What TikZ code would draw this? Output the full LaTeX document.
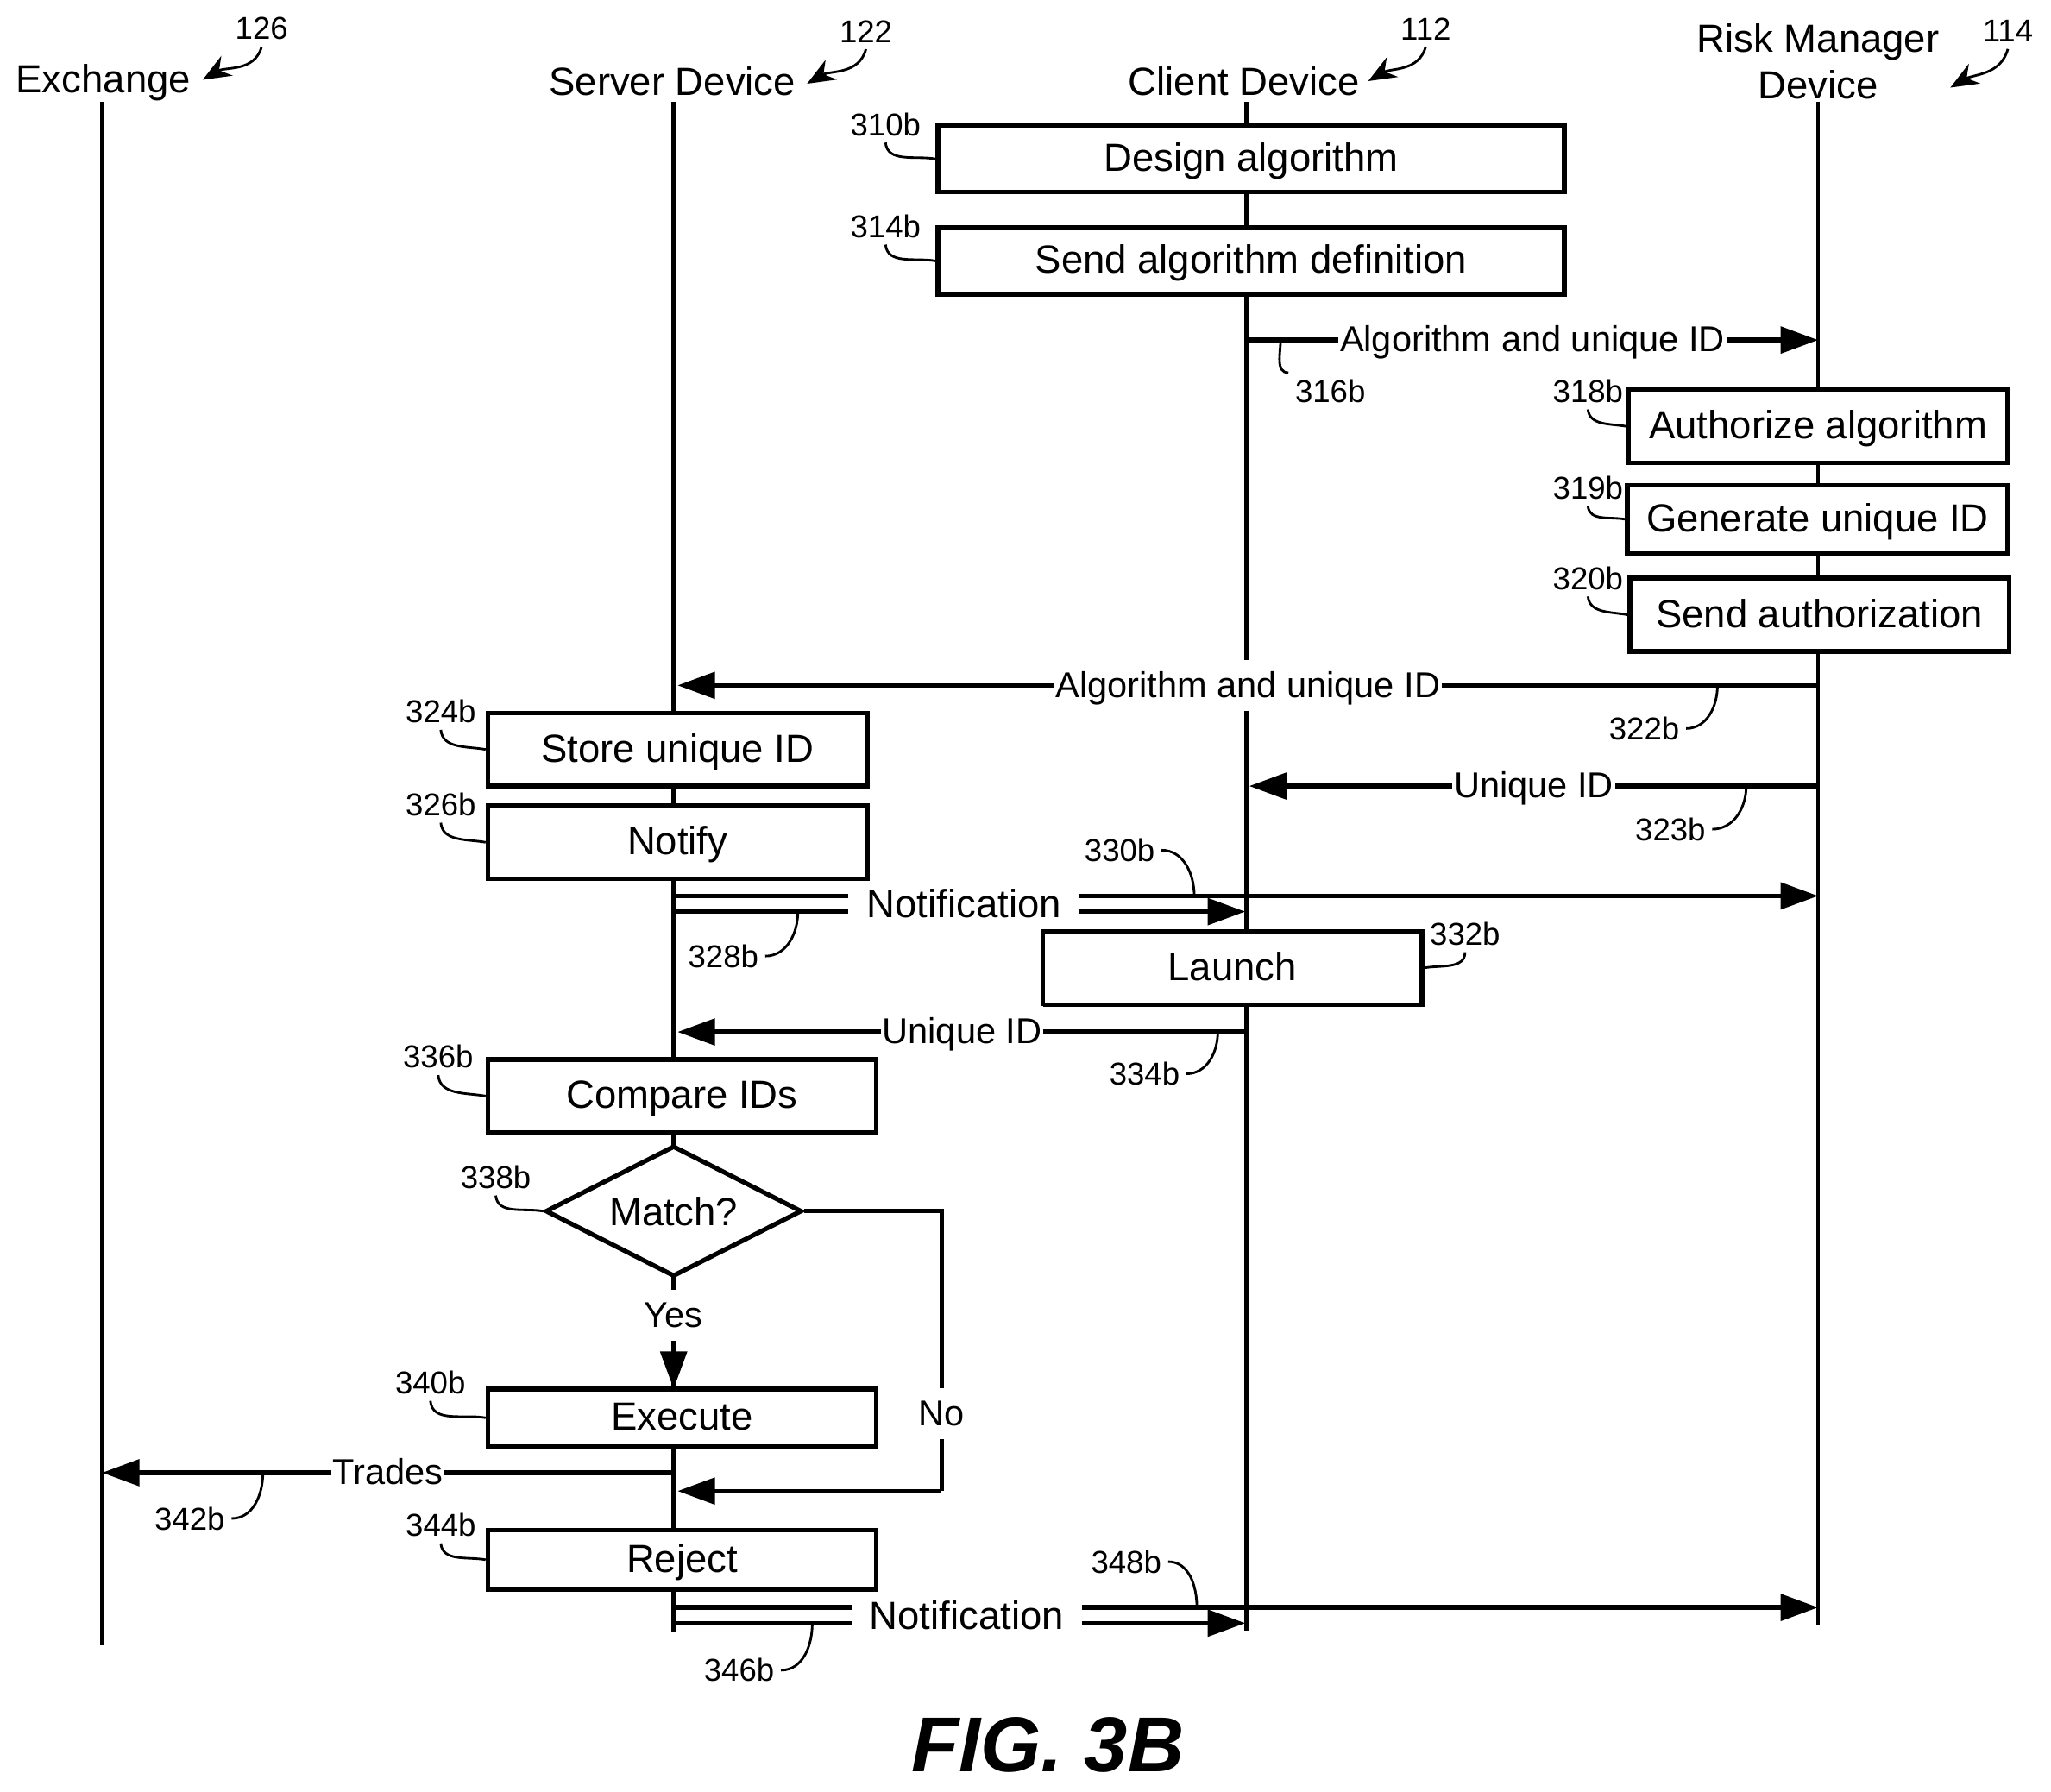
\documentclass[tikz,border=0pt]{standalone}
\usepackage{fontspec}
\setmainfont{Liberation Sans}
\usetikzlibrary{arrows.meta, shapes.geometric}

\tikzset{
    >={Triangle[length=4.3mm, width=3mm]},
    life/.style={line width=1.3pt},
    msg/.style={line width=1.5pt},
    lead/.style={line width=.8pt},
    curl/.style={line width=.8pt, -{Stealth[length=3.2mm, width=2.6mm]}},
    head/.style={font=\fontsize{12.8}{15.3}\selectfont, align=center, inner sep=0},
    ref/.style={font=\fontsize{10.3}{12}\selectfont, inner sep=2pt},
    lbl/.style={font=\fontsize{11.7}{14}\selectfont, fill=white, inner xsep=.5pt, inner ysep=2.5pt,
        text height=9.7pt, text depth=2pt},
    note/.style={font=\fontsize{12.8}{15}\selectfont, fill=white, inner xsep=6pt, inner ysep=2pt},
    box/.style={draw, fill=white, line width=1.5pt, inner sep=0, minimum height=.84cm, minimum width=4.35cm,
        font=\fontsize{12.8}{15}\selectfont, text height=10.9pt, text depth=2.7pt},
}

\begin{document}
\begin{tikzpicture}[x=.015cm, y=-.015cm]
    \useasboundingbox (0, 0) rectangle (1568, 1370);

    % lifelines
    \coordinate (ext) at (78, 78);
    \coordinate (exb) at (78, 1258);
    \coordinate (svt) at (515, 78);
    \coordinate (svb) at (515, 1248);
    \coordinate (clt) at (953, 78);
    \coordinate (clb) at (953, 1247);
    \coordinate (rmt) at (1390, 78);
    \coordinate (rmb) at (1390, 1243);
    \draw [life] (ext) to (exb);
    \draw [life] (svt) to (svb);
    \draw [life] (clt) to (clb);
    \draw [life] (rmt) to (rmb);

    \node [head] (exch) at (79, 63) {Exchange};
    \node [head] (serv) at (514, 62) {Server Device};
    \node [head] (clnt) at (951, 62) {Client Device};
    \node [head] (risk) at (1390, 47) {Risk Manager\\Device};

    \node [ref] (n126) at (200, 22) {126};
    \node [ref] (n122) at (662, 24) {122};
    \node [ref] (n112) at (1090, 22) {112};
    \node [ref] (n114) at (1535, 24) {114};
    \coordinate (c126) at (155, 61);
    \coordinate (c122) at (617, 64);
    \coordinate (c112) at (1046, 62);
    \coordinate (c114) at (1491, 67);
    \draw [curl] (n126.south) to[out=-105, in=30] (c126);
    \draw [curl] (n122.south) to[out=-105, in=30] (c122);
    \draw [curl] (n112.south) to[out=-105, in=30] (c112);
    \draw [curl] (n114.south) to[out=-105, in=30] (c114);

    % client and risk manager steps
    \node [box, minimum width=7.185cm, minimum height=.765cm] (design) at (956.5, 121.5) {Design algorithm};
    \node [box, minimum width=7.185cm, minimum height=.765cm] (senddef) at (956.5, 199.5) {Send algorithm definition};
    \node [box] (authorize) at (1390, 326) {Authorize algorithm};
    \node [box, minimum width=4.365cm, minimum height=.78cm] (generate) at (1389.5, 397) {Generate unique ID};
    \node [box] (sendauth) at (1391, 470) {Send authorization};

    % server steps
    \node [box] (store) at (518, 573) {Store unique ID};
    \node [box] (notify) at (518, 644) {Notify};
    \node [box] (launch) at (942, 740) {Launch};
    \node [box, minimum width=4.455cm] (compare) at (521.5, 838) {Compare IDs};
    \node [draw, diamond, aspect=1.96, fill=white, line width=1.5pt, inner sep=0, minimum width=2.94cm, minimum height=1.5cm,
        font=\fontsize{12.8}{15}\selectfont] (match) at (515, 926) {Match?};
    \node [box, minimum width=4.455cm, minimum height=.66cm] (execute) at (521.5, 1084) {Execute};
    \node [box, minimum width=4.455cm, minimum height=.675cm] (reject) at (521.5, 1192.5) {Reject};

    % messages
    \coordinate (a1) at (953, 260);
    \coordinate (a2) at (1390, 260);
    \draw [msg, ->] (a1) to node [lbl] {Algorithm and unique ID} (a2);
    \coordinate (b1) at (1390, 524);
    \coordinate (b2) at (518, 524);
    \draw [msg, ->] (b1) to node [lbl] {Algorithm and unique ID} (b2);
    \coordinate (d1) at (1390, 601);
    \coordinate (d2) at (955, 601);
    \draw [msg, ->] (d1) to node [lbl] {Unique ID} (d2);

    \coordinate (e1) at (515, 685);
    \coordinate (e2) at (1390, 685);
    \coordinate (e3) at (515, 697);
    \coordinate (e4) at (952, 697);
    \draw [msg, ->] (e1) to (e2);
    \draw [msg, ->] (e3) to (e4);
    \node [note] (notif1) at (737, 691) {Notification};

    \coordinate (f1) at (953, 789);
    \coordinate (f2) at (518, 789);
    \draw [msg, ->] (f1) to node [lbl] {Unique ID} (f2);

    \coordinate (m1) at (515, 1062);
    \draw [msg, ->] (match.south) to node [lbl, pos=.33] {Yes} (m1);
    \coordinate (g1) at (720, 926);
    \coordinate (g2) at (720, 1140);
    \coordinate (g3) at (518, 1140);
    \draw [msg] (match.east) to (g1) to (g2);
    \draw [msg, ->] (g2) to (g3);
    \node [lbl] (no) at (720, 1081) {No};

    \coordinate (h1) at (515, 1126);
    \coordinate (h2) at (78, 1126);
    \draw [msg, ->] (h1) to node [lbl] {Trades} (h2);

    \coordinate (k1) at (515, 1229);
    \coordinate (k2) at (1390, 1229);
    \coordinate (k3) at (515, 1241);
    \coordinate (k4) at (952, 1241);
    \draw [msg, ->] (k1) to (k2);
    \draw [msg, ->] (k3) to (k4);
    \node [note] (notif2) at (739, 1235) {Notification};

    % reference numbers on boxes
    \node [ref] (n310) at (677, 95) {310b};
    \node [ref] (n314) at (677, 173) {314b};
    \node [ref] (n318) at (1214, 299) {318b};
    \node [ref] (n319) at (1214, 373) {319b};
    \node [ref] (n320) at (1214, 442) {320b};
    \node [ref] (n324) at (337, 544) {324b};
    \node [ref] (n326) at (337, 615) {326b};
    \node [ref] (n332) at (1120, 714) {332b};
    \node [ref] (n336) at (335, 808) {336b};
    \node [ref] (n338) at (379, 900) {338b};
    \node [ref] (n340) at (329, 1057) {340b};
    \node [ref] (n344) at (337, 1166) {344b};
    \draw [lead] (n310.south) to[out=-85, in=170] (design.west);
    \draw [lead] (n314.south) to[out=-85, in=170] (senddef.west);
    \draw [lead] (n318.south) to[out=-85, in=170] (authorize.west);
    \draw [lead] (n319.south) to[out=-85, in=170] (generate.west);
    \draw [lead] (n320.south) to[out=-85, in=170] (sendauth.west);
    \draw [lead] (n324.south) to[out=-85, in=170] (store.west);
    \draw [lead] (n326.south) to[out=-85, in=170] (notify.west);
    \draw [lead] (n332.south) to[out=-90, in=10] (launch.east);
    \draw [lead] (n336.south) to[out=-85, in=170] (compare.west);
    \draw [lead] (n338.south) to[out=-85, in=170] (match.west);
    \draw [lead] (n340.south) to[out=-85, in=170] (execute.west);
    \draw [lead] (n344.south) to[out=-85, in=170] (reject.west);

    % reference numbers on messages
    \node [ref] (n316) at (1017, 299) {316b};
    \node [ref] (n322) at (1257, 557) {322b};
    \node [ref] (n323) at (1277, 634) {323b};
    \node [ref] (n328) at (553, 731) {328b};
    \node [ref] (n330) at (856, 650) {330b};
    \node [ref] (n334) at (875, 821) {334b};
    \node [ref] (n342) at (145, 1161) {342b};
    \node [ref] (n346) at (565, 1277) {346b};
    \node [ref] (n348) at (861, 1194) {348b};
    \coordinate (c316) at (979, 260);
    \coordinate (c322) at (1313, 524);
    \coordinate (c323) at (1335, 601);
    \coordinate (c328) at (610, 697);
    \coordinate (c330) at (913, 685);
    \coordinate (c334) at (931, 789);
    \coordinate (c342) at (201, 1126);
    \coordinate (c346) at (621, 1241);
    \coordinate (c348) at (915, 1229);
    \draw [lead] (c316) to[out=-90, in=180] (n316.north west);
    \draw [lead] (n322.east) to[out=0, in=-90] (c322);
    \draw [lead] (n323.east) to[out=0, in=-90] (c323);
    \draw [lead] (n328.east) to[out=0, in=-90] (c328);
    \draw [lead] (n330.east) to[out=0, in=90] (c330);
    \draw [lead] (n334.east) to[out=0, in=-90] (c334);
    \draw [lead] (n342.east) to[out=0, in=-90] (c342);
    \draw [lead] (n346.east) to[out=0, in=-90] (c346);
    \draw [lead] (n348.east) to[out=0, in=90] (c348);

    \node [font=\fontsize{25.4}{30}\selectfont\bfseries\itshape, inner sep=0] (fig) at (801, 1334) {FIG. 3B};
\end{tikzpicture}
\end{document}
